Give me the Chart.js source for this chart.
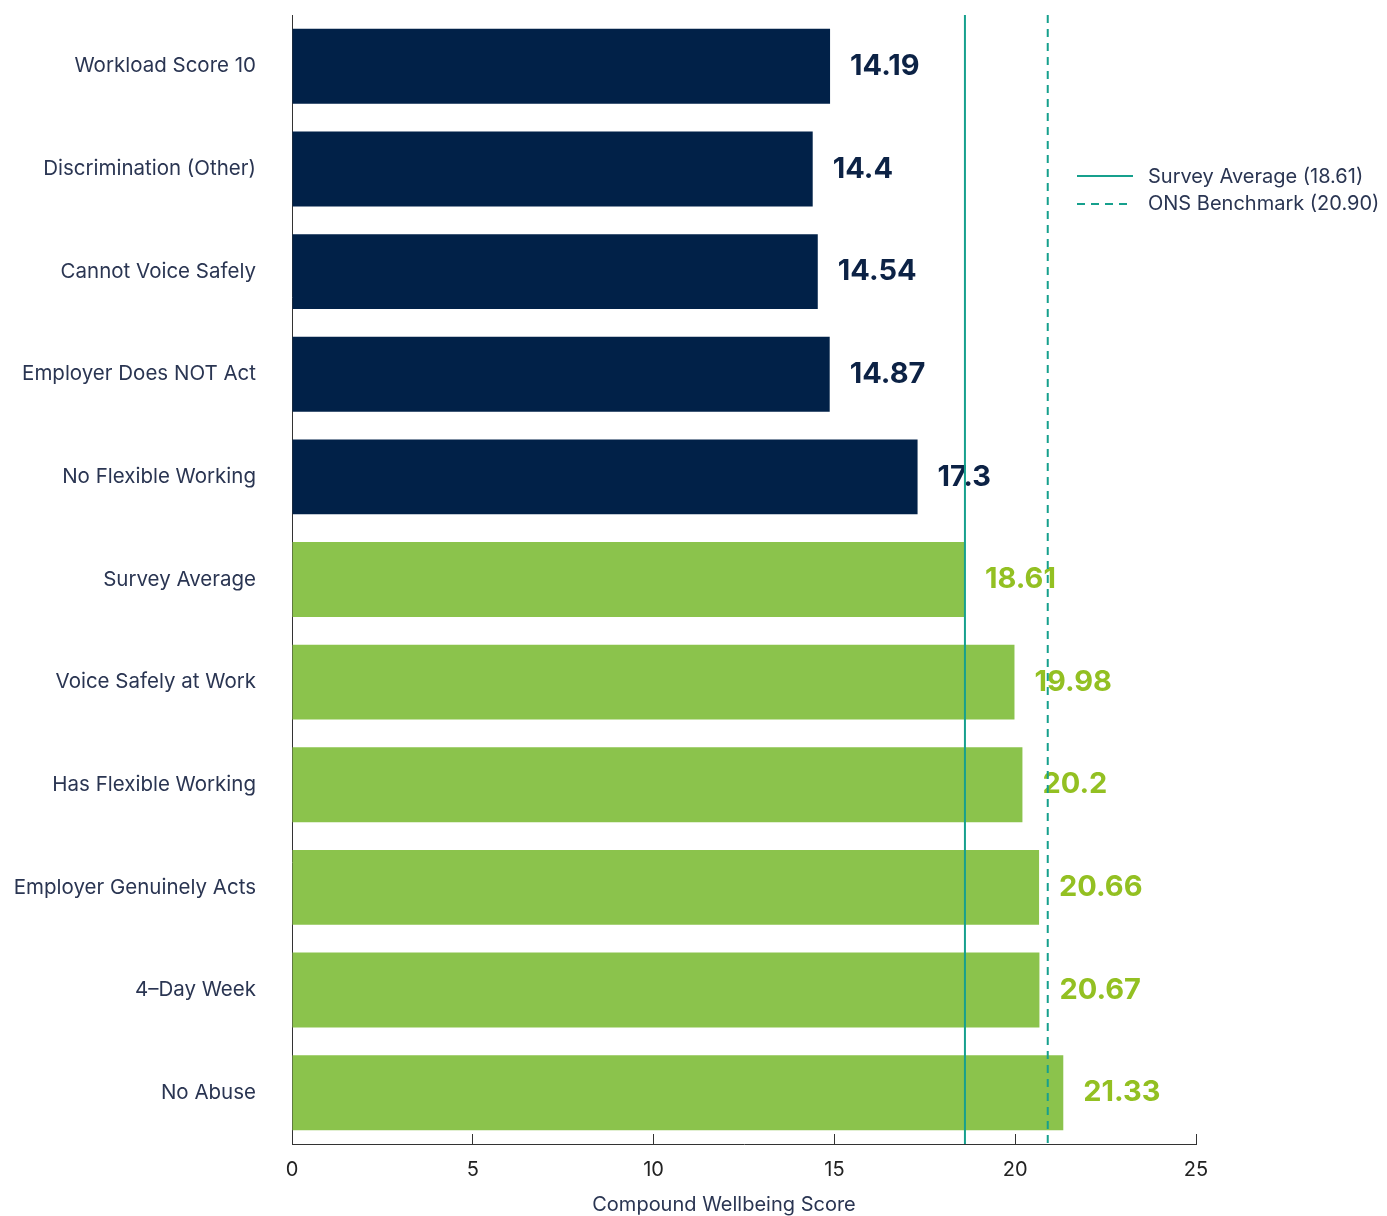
<!DOCTYPE html>
<html>
<head>
<meta charset="utf-8">
<script src="https://cdn.jsdelivr.net/npm/chart.js@4.4.1/dist/chart.umd.min.js"></script>
<style>
  body { margin: 0; background: #fff; }
  #wrap { width: 1387px; height: 1216px; position: relative; }
</style>
</head>
<body>
<div id="wrap"><canvas id="wellbeing-chart"></canvas></div>
<script>
// data
let categories = ['Workload Score 10', 'Discrimination (Other)', 'Cannot Voice Safely', 'Employer Does NOT Act',
    'No Flexible Working', 'Survey Average', 'Voice Safely at Work', 'Has Flexible Working',
    'Employer Genuinely Acts', '4\u2013Day Week', 'No Abuse']
// bar lengths as drawn (first bar is drawn longer than its printed label)
let barValues = [14.88, 14.4, 14.54, 14.87, 17.3, 18.61, 19.98, 20.2, 20.66, 20.67, 21.33]
let valueLabels = ['14.19', '14.4', '14.54', '14.87', '17.3', '18.61', '19.98', '20.2', '20.66', '20.67', '21.33']
let groupOf = ['neg', 'neg', 'neg', 'neg', 'neg', 'pos', 'pos', 'pos', 'pos', 'pos', 'pos']
let xTicks = [0, 5, 10, 15, 20, 25]
let surveyAverage = 18.61
let onsBenchmark = 20.90
let xTitle = 'Compound Wellbeing Score'

let navy = '#012148'
let green = '#8bc34c'
let navyText = '#0c2245'
let greenText = '#93c022'
let teal = '#16a08d'
let textColor = '#2a3552'
let fontFamily = 'Inter, "Noto Sans", sans-serif'

/* value labels at the end of each bar */
let valueLabelPlugin = {
    id: 'valueLabels',
    afterDatasetsDraw(chart) {
        let ctx = chart.ctx
        let meta = chart.getDatasetMeta(0)
        ctx.save()
        ctx.font = 'bold 29px ' + fontFamily
        ctx.textBaseline = 'middle'
        ctx.textAlign = 'left'
        meta.data.forEach(function (bar, i) {
            ctx.fillStyle = groupOf[i] === 'neg' ? navyText : greenText
            ctx.fillText(valueLabels[i], bar.x + 20, bar.y)
        })
        ctx.restore()
    }
}

/* reference lines, legend and axis title */
let refLinePlugin = {
    id: 'refLines',
    afterDraw(chart) {
        let ctx = chart.ctx
        let x = chart.scales.x
        let area = chart.chartArea
        ctx.save()
        ctx.strokeStyle = teal
        ctx.lineWidth = 2
        let xa = x.getPixelForValue(surveyAverage)
        ctx.beginPath()
        ctx.moveTo(xa, area.top)
        ctx.lineTo(xa, area.bottom)
        ctx.stroke()

        ctx.setLineDash([8, 6])
        let xb = x.getPixelForValue(onsBenchmark)
        ctx.beginPath()
        ctx.moveTo(xb, area.top)
        ctx.lineTo(xb, area.bottom)
        ctx.stroke()

        // legend
        ctx.setLineDash([])
        ctx.beginPath()
        ctx.moveTo(1077, 176)
        ctx.lineTo(1133, 176)
        ctx.stroke()
        ctx.setLineDash([8, 6])
        ctx.beginPath()
        ctx.moveTo(1077, 204)
        ctx.lineTo(1133, 204)
        ctx.stroke()

        ctx.font = '20px ' + fontFamily
        ctx.fillStyle = textColor
        ctx.textBaseline = 'middle'
        ctx.fillText('Survey Average (' + surveyAverage.toFixed(2) + ')', 1148, 177)
        ctx.fillText('ONS Benchmark (' + onsBenchmark.toFixed(2) + ')', 1148, 204)

        // x axis title
        ctx.textAlign = 'center'
        ctx.fillText(xTitle, 724, 1205)
        ctx.restore()
    }
}

let chartCanvas = document.querySelector('#wellbeing-chart')
let context = chartCanvas.getContext('2d')

let wellbeingChart = new Chart(context, {
    type: 'bar',
    data: {
        labels: categories,
        datasets: [{
            data: barValues,
            backgroundColor: groupOf.map(g => g === 'neg' ? navy : green),
            borderWidth: 0,
            barPercentage: 0.73,
            categoryPercentage: 1
        }]
    },
    options: {
        indexAxis: 'y',
        responsive: true,
        maintainAspectRatio: false,
        animation: false,
        layout: { padding: { top: 15, right: 191, left: 0, bottom: 0 } },
        plugins: {
            legend: { display: false },
            tooltip: { enabled: false }
        },
        scales: {
            x: {
                min: 0,
                max: 25,
                afterBuildTicks(scale) {
                    scale.ticks = xTicks.map(v => ({ value: v }))
                },
                afterFit(scale) { scale.height = 72 },
                grid: { drawOnChartArea: false, tickLength: -10, color: '#333', lineWidth: 1 },
                border: { display: true, color: '#333', width: 1 },
                ticks: {
                    padding: 24,
                    color: '#222',
                    font: { family: fontFamily, size: 20 }
                }
            },
            y: {
                afterFit(scale) { scale.width = 292 },
                grid: { display: false, drawTicks: true, tickLength: 36 },
                border: { display: true, color: '#333', width: 1 },
                ticks: {
                    padding: 0,
                    color: textColor,
                    font: { family: fontFamily, size: 20.5 }
                }
            }
        }
    },
    plugins: [valueLabelPlugin, refLinePlugin]
})
</script>
</body>
</html>
